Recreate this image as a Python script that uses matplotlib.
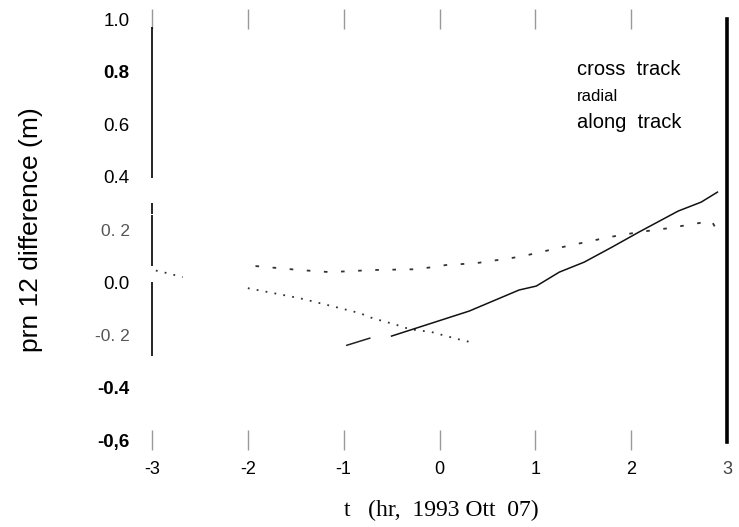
import numpy as np
import matplotlib
matplotlib.use("Agg")
import matplotlib.pyplot as plt

# data (hours vs metres)
cross_t = [-1.92, -1.46, -1.14, -0.70, -0.23, 0.07, 0.38, 0.85, 1.28, 1.77, 2.08, 2.39, 2.70, 2.84, 2.89]
cross_v = [0.061, 0.046, 0.038, 0.046, 0.049, 0.065, 0.072, 0.097, 0.133, 0.171, 0.190, 0.205, 0.224, 0.232, 0.200]

radial_a_t = [-2.96, -2.84, -2.68]
radial_a_v = [0.044, 0.034, 0.019]
radial_b_t = [-2.00, -1.46, -1.08, -0.83, -0.70, -0.47, -0.31, -0.08, 0.07, 0.23, 0.37]
radial_b_v = [-0.023, -0.061, -0.095, -0.118, -0.137, -0.160, -0.179, -0.190, -0.205, -0.220, -0.232]

along_a_t = [-0.967, -0.728]
along_a_v = [-0.240, -0.213]
along_b_t = [-0.50, 0.31, 0.83, 1.01, 1.25, 1.51, 1.80, 2.08, 2.49, 2.73, 2.90]
along_b_v = [-0.205, -0.110, -0.030, -0.015, 0.038, 0.076, 0.133, 0.190, 0.270, 0.304, 0.342]

xticks = [-3, -2, -1, 0, 1, 2, 3]
xlabels = ["-3", "-2", "-1", "0", "1", "2", "3"]
yticks = [1.0, 0.8, 0.6, 0.4, 0.2, 0.0, -0.2, -0.4, -0.6]
ylabels = ["1.0", "0.8", "0.6", "0.4", "0. 2", "0.0", "-0. 2", "-0.4", "-0,6"]
legend_names = ["cross  track", "radial", "along  track"]

plt.rcParams['font.family'] = ['Liberation Sans', 'DejaVu Sans']

fig = plt.figure(figsize=(7.39, 5.27), dpi=100)
ax = fig.add_axes([152/739, 1 - 440/527, 575/739, 421/527])
ax.set_xlim(-3, 3)
ax.set_ylim(-0.6, 1.0)
for s in ax.spines.values():
    s.set_visible(False)

# curves
ax.plot(cross_t, cross_v, color='#333333', lw=1.3, linestyle=(0, (2, 7.5)))
ax.plot(radial_a_t, radial_a_v, color='#333333', lw=1.3, linestyle=(0, (1, 4)))
ax.plot(radial_b_t, radial_b_v, color='#333333', lw=1.3, linestyle=(0, (1, 4)))
ax.plot(along_a_t, along_a_v, color='#222222', lw=1.1)
ax.plot(along_b_t, along_b_v, color='#111111', lw=1.1)

# broken left axis line, thick right one
for lo, hi in [(0.395, 0.97), (0.26, 0.30), (0.06, 0.255), (-0.28, 0.0)]:
    ax.vlines(-3, lo, hi, color='black', lw=1.2, clip_on=False)
ax.axvline(3, ymin=-0.005, ymax=1.0, color='black', lw=2.6, clip_on=False)

ax.set_xticks(xticks)
ax.set_xticklabels(xlabels, fontsize=13)
ax.tick_params(axis='x', direction='inout', length=14, width=1, color='#999999',
               top=True, bottom=True, pad=8)
for i, t in enumerate(ax.xaxis.get_major_ticks()):
    if xticks[i] in (-3, 0):
        t.tick1line.set_color('#222222')
    if xticks[i] == 3:
        t.tick1line.set_visible(False)
        t.tick2line.set_visible(False)
        t.label1.set_color('#444444')

ax.set_yticks(yticks)
ax.set_yticklabels(ylabels, fontsize=13.5)
ax.tick_params(axis='y', length=0, pad=16)
for lab, txt in zip(ax.get_yticklabels(), ylabels):
    if txt in ("0. 2", "-0. 2"):
        lab.set_color('#555555')
        lab.set_fontsize(12.5)
    if txt in ("0.8", "-0.4", "-0,6"):
        lab.set_fontweight('bold')

fig.text(31/739, 1 - 230/527, "prn 12 difference (m)", rotation=90,
         ha='center', va='center', fontsize=19)
fig.text(441/739, 1 - 510/527, "t   (hr,  1993 Ott  07)", ha='center', va='center',
         fontsize=17, family=['Liberation Serif', 'DejaVu Serif'])

# legend text block
ax.text(0.739, 0.879, legend_names[0], transform=ax.transAxes, fontsize=14.5, va='center')
ax.text(0.739, 0.815, legend_names[1], transform=ax.transAxes, fontsize=12, va='center')
ax.text(0.739, 0.755, legend_names[2], transform=ax.transAxes, fontsize=14.5, va='center')

fig.savefig("out.png", dpi=100)
